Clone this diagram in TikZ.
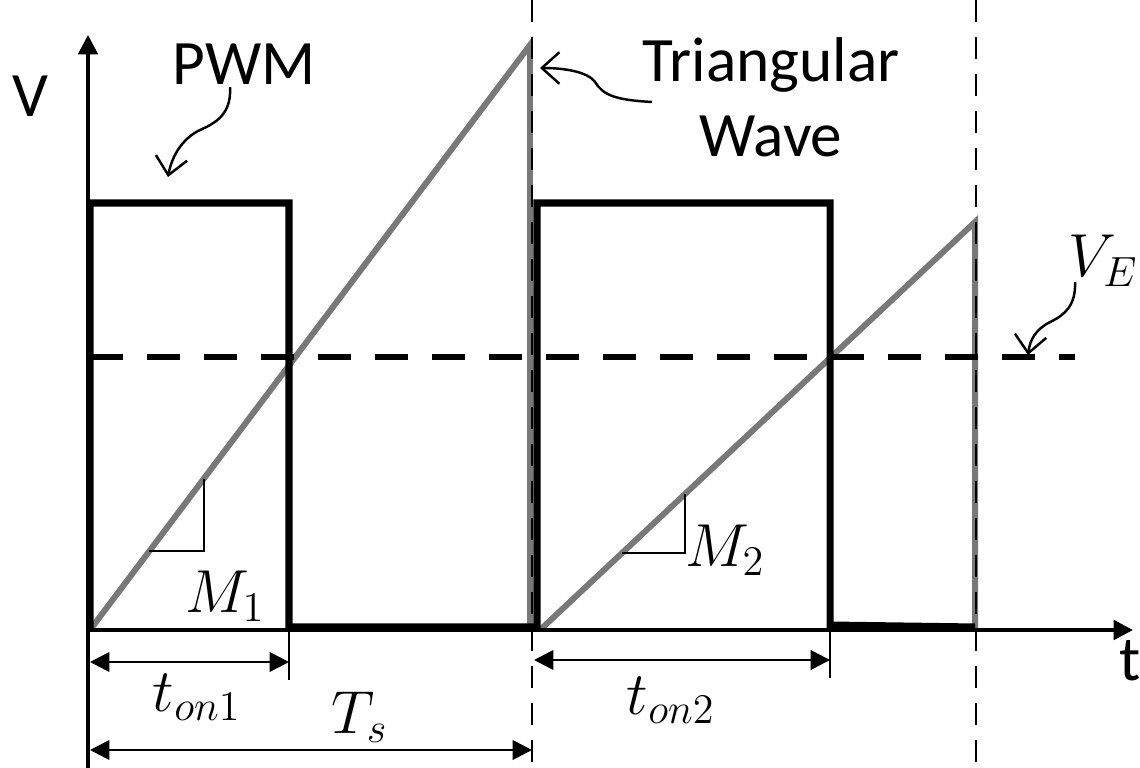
\documentclass[tikz,border=0pt]{standalone}
\usepackage{fontspec}
\setmainfont{Carlito}
\usetikzlibrary{arrows.meta}
\definecolor{triwave}{RGB}{120,120,120}

\begin{document}
\begin{tikzpicture}[
        x=0.1mm, y=-0.1mm,
        font=\fontsize{18}{21.3}\selectfont,
        axis/.style={-{Triangle[length=5.5pt, width=5.5pt]}, line width=1.1pt},
        pwm/.style={line width=2pt, line join=miter},
        tri/.style={line width=1.7pt, triwave},
        level/.style={line width=1.5pt, dash pattern=on 3.3mm off 2.4mm},
        period/.style={line width=0.8pt, dash pattern=on 2.2mm off 1.5mm},
        dim/.style={{Triangle[length=5.5pt, width=5.5pt]}-{Triangle[length=5.5pt, width=5.5pt]}, line width=0.8pt},
        slope/.style={line width=0.7pt},
        callout/.style={-{Straight Barb[length=5pt, width=9pt]}, line width=0.7pt},
        lbl/.style={anchor=base west, inner sep=0pt},
    ]
    \useasboundingbox (0,0) rectangle (1140,768);

    \coordinate (O) at (88,630);
    \coordinate (ymin) at (88,768);
    \coordinate (ymax) at (88,35);
    \coordinate (xmax) at (1133,630);

    % triangular wave
    \draw[tri] (90,630) -- (530,45) -- (530,630);
    \draw[tri] (540,630) -- (975,222) -- (975,630);

    % pwm output
    \draw[pwm] (90,630) -- (90,203) -- (289,203) -- (289,627) -- (537,627)
        -- (537,203) -- (830,203) -- (830,625) -- (975,627);

    % error voltage and periods
    \draw[level] (90,357) -- (1075,357);
    \draw[period] (532,0) -- (532,768);
    \draw[period] (976,0) -- (976,768);

    \draw[axis] (ymin) -- (ymax);
    \draw[axis] (O) -- (xmax);

    % slopes
    \draw[slope] (149,551) -- (204,551) -- (204,479);
    \draw[slope] (622,553) -- (685,553) -- (685,494);

    % time marks
    \draw[line width=0.8pt] (289,630) -- (289,680);
    \draw[line width=0.8pt] (830,630) -- (830,678);
    \draw[dim] (90,662) -- (289,662);
    \draw[dim] (534,660) -- (830,660);
    \draw[dim] (90,750) -- (532,750);

    \node[lbl] (vlabel) at (12,117) {V};
    \node[lbl] (tlabel) at (1119,680) {t};
    \node[lbl] (pwmlabel) at (172,85) {PWM};
    \node[align=center, inner sep=0pt] (trilabel) at (771,97) {Triangular\\Wave};
    \node[lbl] (velabel) at (1068,277) {$V_E$};
    \node (m1) at (225,596) {$M_1$};
    \node (m2) at (725,550) {$M_2$};
    \node (ton1) at (197,697) {$t_{on1}$};
    \node (ts) at (360,717) {$T_s$};
    \node (ton2) at (671,700) {$t_{on2}$};

    \coordinate (pwmfrom) at (230,87);
    \coordinate (pwmto) at (168,177);
    \coordinate (trifrom) at (652,102);
    \coordinate (trito) at (540,68);
    \coordinate (vefrom) at (1075,282);
    \coordinate (veto) at (1028,355);

    \draw[callout] (pwmfrom) .. controls (232,118) and (210,125) .. (198,131)
        .. controls (183,139) and (172,155) .. (pwmto);
    \draw[callout] (trifrom) .. controls (615,100) and (603,95) .. (595,82)
        .. controls (588,72) and (565,68) .. (trito);
    \draw[callout] (vefrom) .. controls (1076,305) and (1065,315) .. (1050,322)
        .. controls (1035,330) and (1030,340) .. (veto);
\end{tikzpicture}
\end{document}
